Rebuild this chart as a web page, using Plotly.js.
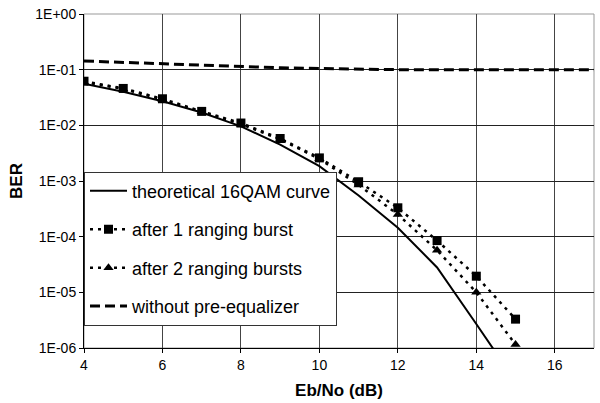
<!DOCTYPE html>
<html>
<head>
<meta charset="utf-8">
<script src="https://cdn.plot.ly/plotly-3.0.1.min.js"></script>
<style>html,body{margin:0;padding:0;background:#fff;}#chart{width:600px;height:403px;}</style>
</head>
<body>
<div id="chart"></div>
<script>
// Eb/No (dB) values
var ebnoTheory = [4, 5, 6, 7, 8, 9, 10, 11, 12, 13, 14, 15];
var berTheory = [0.056, 0.040, 0.027, 0.017, 0.0096, 0.0045, 0.00185, 0.00055, 0.000145, 0.000028, 0.0000027, 0.00000025];

var ebnoMeas = [4, 5, 6, 7, 8, 9, 10, 11, 12, 13, 14, 15];
var berBurst1 = [0.062, 0.046, 0.030, 0.0178, 0.011, 0.0058, 0.0026, 0.00097, 0.00033, 0.000085, 0.0000195, 0.0000033];
var berBurst2 = [0.060, 0.045, 0.029, 0.0175, 0.0105, 0.0056, 0.0025, 0.00085, 0.00025, 0.000057, 0.000010, 0.00000116];

var ebnoNoEq = [4, 5, 6, 7, 8, 9, 10, 11, 12, 13, 14, 15, 16, 17];
var berNoEq = [0.143, 0.135, 0.128, 0.120, 0.114, 0.108, 0.105, 0.102, 0.100, 0.100, 0.100, 0.100, 0.100, 0.100];

var seriesNames = ["theoretical 16QAM curve", "after 1 ranging burst", "after 2 ranging bursts", "without pre-equalizer"];

var xTickVals = [4, 6, 8, 10, 12, 14, 16];
var yTickVals = [1, 0.1, 0.01, 0.001, 0.0001, 0.00001, 0.000001];
var yTickText = ["1E+00", "1E-01", "1E-02", "1E-03", "1E-04", "1E-05", "1E-06"];

var font = "Arial, 'Liberation Sans', sans-serif";

var traces = [
  {x: ebnoTheory, y: berTheory, name: seriesNames[0], legendgroup: "a", mode: "lines",
   line: {color: "#000", width: 2}},
  {x: ebnoMeas, y: berBurst1, name: seriesNames[1], legendgroup: "b", mode: "lines+markers",
   line: {color: "#000", width: 2.5, dash: "3px,5px"},
   marker: {symbol: "square", size: 9, color: "#000"}},
  {x: ebnoMeas, y: berBurst2, name: seriesNames[2], legendgroup: "c", mode: "lines+markers",
   line: {color: "#000", width: 2.5, dash: "3px,5px"},
   marker: {symbol: "triangle-up", size: 9, color: "#000"}},
  {x: ebnoNoEq, y: berNoEq, name: seriesNames[3], legendgroup: "d", mode: "lines",
   line: {color: "#000", width: 3, dash: "10px,5px"}}
];

var layout = {
  width: 600, height: 403,
  margin: {l: 84, r: 6, t: 14, b: 55, pad: 0},
  paper_bgcolor: "#fff", plot_bgcolor: "#fff",
  font: {family: font, color: "#000"},
  showlegend: true,
  legend: {
    x: 0, xanchor: "left", y: 0.528, yanchor: "top",
    bgcolor: "#fff", bordercolor: "#333", borderwidth: 1,
    font: {family: font, size: 18, color: "#000"},
    traceorder: "grouped", tracegroupgap: 12, itemwidth: 37
  },
  xaxis: {
    range: [4, 17], tickvals: xTickVals, ticks: "outside", ticklen: 4, tickcolor: "#000",
    showgrid: true, gridcolor: "#444", gridwidth: 1,
    showline: true, linecolor: "#000", linewidth: 1, zeroline: false,
    tickfont: {family: font, size: 14, color: "#000"},
    title: {text: "<b>Eb/No (dB)</b>", font: {family: font, size: 17, color: "#000"}, standoff: 12}
  },
  yaxis: {
    type: "log", range: [-6, 0], tickvals: yTickVals, ticktext: yTickText,
    ticks: "outside", ticklen: 4, tickcolor: "#000",
    showgrid: true, gridcolor: "#222", gridwidth: 1,
    showline: true, linecolor: "#000", linewidth: 1, zeroline: false,
    tickfont: {family: font, size: 14, color: "#000"},
    title: {text: "<b>BER</b>", font: {family: font, size: 17, color: "#000"}, standoff: 8}
  },
  shapes: [
    {type: "rect", xref: "paper", yref: "paper", x0: 0, x1: 1, y0: 0, y1: 1,
     line: {color: "#999", width: 1}, layer: "below"}
  ]
};

Plotly.newPlot("chart", traces, layout, {displayModeBar: false, staticPlot: true});
</script>
</body>
</html>
